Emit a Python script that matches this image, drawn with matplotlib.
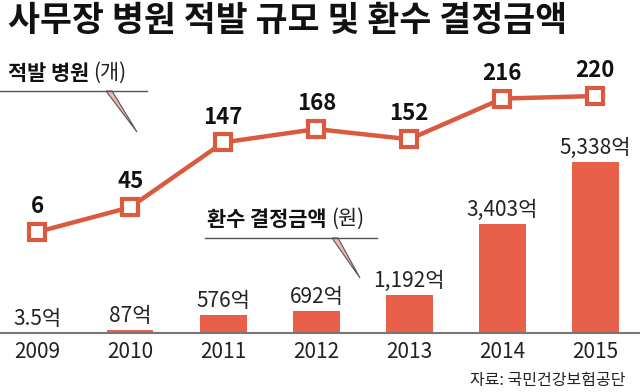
import matplotlib
matplotlib.use("Agg")
import matplotlib.pyplot as plt
from matplotlib.patches import Polygon
from matplotlib.lines import Line2D

plt.rcParams['font.family'] = ['Noto Sans CJK KR', 'DejaVu Sans']

years = ['2009', '2010', '2011', '2012', '2013', '2014', '2015']
cases = [6, 45, 147, 168, 152, 216, 220]
amounts = [3.5, 87, 576, 692, 1192, 3403, 5338]

title = '사무장 병원 적발 규모 및 환수 결정금액'
source = '자료: 국민건강보험공단'

BAR_C = '#E8604A'
LINE_C = '#DA5A40'

W, H = 640, 392
fig = plt.figure(figsize=(W / 100, H / 100), dpi=100)


def fx(px):
    return px / W


def fy(py):
    return 1 - py / H


ax = fig.add_axes([0, fy(333), 1, (333 - 60) / H])
x = list(range(len(years)))
ax.bar(x, amounts, width=0.5, color=BAR_C, zorder=2)
ax.set_xlim(-0.4, 6.48)
ax.set_ylim(0, 8520)
for s in ['top', 'left', 'right']:
    ax.spines[s].set_visible(False)
ax.spines['bottom'].set_color('#777777')
ax.spines['bottom'].set_linewidth(1.5)
ax.set_yticks([])
ax.set_xticks(x)
ax.set_xticklabels(years, fontsize=15, color='#222222')
ax.tick_params(axis='x', length=0, pad=6)


def fmt(v):
    return f'{v:,.0f}억' if float(v).is_integer() else f'{v}억'


for xi, v in zip(x, amounts):
    ax.annotate(fmt(v), (xi, v), xytext=(0, 2), textcoords='offset points',
                ha='center', va='bottom', fontsize=15, color='#222222')

ax2 = ax.twinx()
ax2.set_ylim(-152.9, 276.7)
ax2.set_xlim(-0.4, 6.48)
ax2.axis('off')
ax2.plot(x, cases, color=LINE_C, lw=3.2, marker='s', markersize=11,
         markerfacecolor='white', markeredgecolor=LINE_C, markeredgewidth=3, zorder=3)
for xi, v in zip(x, cases):
    ax2.annotate(str(v), (xi, v), xytext=(0, 10), textcoords='offset points',
                 ha='center', va='bottom', fontsize=16, fontweight='bold', color='#111111')

fig.text(fx(8), fy(3), title, ha='left', va='top', fontsize=25, fontweight='heavy', color='#111111')

# legend-like labels
fig.text(fx(8), fy(73), '적발 병원', ha='left', va='center', fontsize=15, fontweight='heavy', color='#111111')
fig.text(fx(93), fy(73), '(개)', ha='left', va='center', fontsize=15, color='#222222')
fig.add_artist(Line2D([fx(0), fx(147)], [fy(91), fy(91)], color='#555555', lw=1))
fig.add_artist(Polygon([[fx(106), fy(91)], [fx(112), fy(91)], [fx(137), fy(132)]],
                       closed=True, facecolor='#F2B8B0', edgecolor='#555555', lw=0.8))

fig.text(fx(207), fy(219), '환수 결정금액', ha='left', va='center', fontsize=15, fontweight='heavy', color='#111111')
fig.text(fx(331), fy(219), '(원)', ha='left', va='center', fontsize=15, color='#222222')
fig.add_artist(Line2D([fx(205), fx(377)], [fy(238), fy(238)], color='#555555', lw=1))
fig.add_artist(Polygon([[fx(332), fy(238)], [fx(338), fy(238)], [fx(360), fy(278)]],
                       closed=True, facecolor='#F2B8B0', edgecolor='#555555', lw=0.8))

fig.text(fx(625), fy(381), source, ha='right', va='center', fontsize=11.5, color='#222222')

fig.savefig('out.png', dpi=100)
